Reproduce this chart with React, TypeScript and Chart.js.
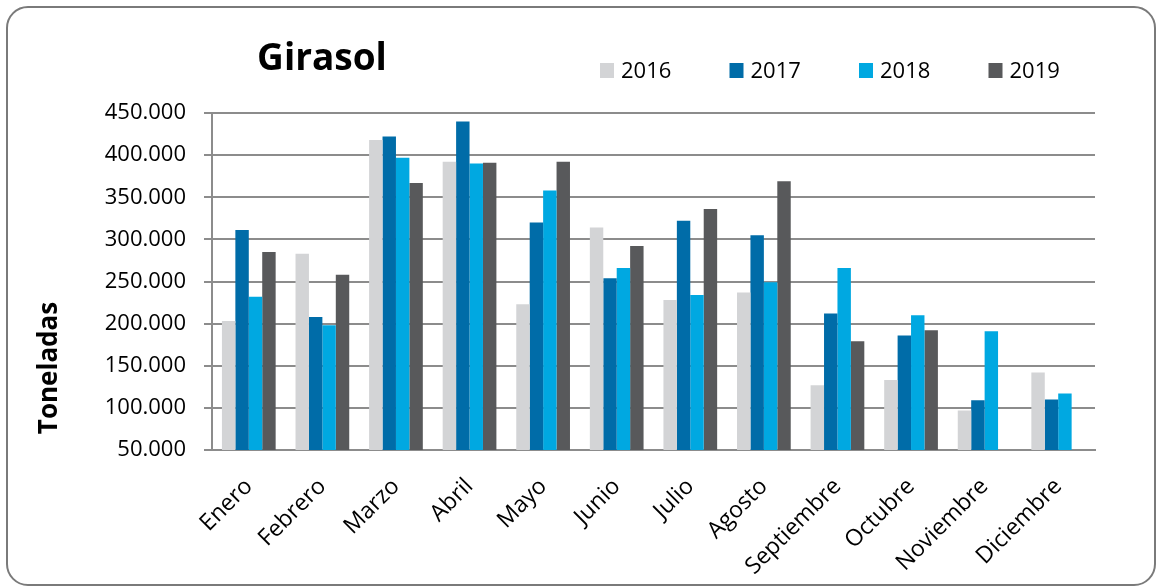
import React, { useEffect, useRef } from "react";
import { Chart, registerables } from "chart.js";

Chart.register(...registerables);

const months = [
  "Enero", "Febrero", "Marzo", "Abril", "Mayo", "Junio",
  "Julio", "Agosto", "Septiembre", "Octubre", "Noviembre", "Diciembre",
];

const years = ["2016", "2017", "2018", "2019"];

const values2016 = [203000, 283000, 418000, 392000, 223000, 314000, 228000, 237000, 127000, 133000, 97000, 142000];
const values2017 = [311000, 208000, 422000, 440000, 320000, 254000, 322000, 305000, 212000, 186000, 109000, 110000];
const values2018 = [232000, 198000, 397000, 390000, 358000, 266000, 234000, 249000, 266000, 210000, 191000, 117000];
const values2019 = [285000, 258000, 367000, 391000, 392000, 292000, 336000, 369000, 179000, 192000, null, null];

const colors = ["#D3D4D6", "#006CA8", "#00A8E1", "#58595B"];

const chartTitle = "Girasol";
const yAxisTitle = "Toneladas";

const yMin = 50000;
const yMax = 450000;
const yStep = 50000;

const FONT = '"Open Sans", "Noto Sans", sans-serif';

function formatThousands(v: number): string {
  return Math.round(v).toString().replace(/\B(?=(\d{3})+(?!\d))/g, ".");
}

const overlayPlugin = {
  id: "overlay",
  afterDraw(chart: any) {
    const ctx = chart.ctx as CanvasRenderingContext2D;
    ctx.save();
    // Title
    ctx.fillStyle = "#000";
    ctx.font = `bold 37px ${FONT}`;
    ctx.textAlign = "center";
    ctx.textBaseline = "alphabetic";
    ctx.fillText(chartTitle, 322, 70);

    // Legend
    ctx.font = `22px ${FONT}`;
    ctx.textAlign = "left";
    chart.data.datasets.forEach((ds: any, i: number) => {
      const x = 600 + i * 129.5;
      ctx.fillStyle = ds.backgroundColor;
      ctx.fillRect(x, 63, 14, 15);
      ctx.fillStyle = "#000";
      ctx.fillText(ds.label, x + 21, 78);
    });

    // Y axis title
    ctx.translate(57, 368);
    ctx.rotate(-Math.PI / 2);
    ctx.font = `bold 26px ${FONT}`;
    ctx.textAlign = "center";
    ctx.fillStyle = "#000";
    ctx.fillText(yAxisTitle, 0, 0);
    ctx.restore();
  },
};

export default function App() {
  const canvasRef = useRef<HTMLCanvasElement | null>(null);

  useEffect(() => {
    if (!canvasRef.current) return;
    const series = [values2016, values2017, values2018, values2019];
    const chart = new Chart(canvasRef.current, {
      type: "bar",
      data: {
        labels: months,
        datasets: years.map((y, i) => ({
          label: y,
          data: series[i],
          backgroundColor: colors[i],
          borderWidth: 0,
          categoryPercentage: 0.73,
          barPercentage: 1.0,
        })),
      },
      options: {
        animation: false,
        responsive: false,
        maintainAspectRatio: false,
        layout: { padding: { left: 0, top: 113, right: 61, bottom: 0 } },
        plugins: {
          legend: { display: false },
          title: { display: false },
          tooltip: { enabled: false },
        },
        scales: {
          x: {
            grid: { display: false, drawTicks: false },
            border: { display: true, color: "#8c8c8c", width: 2 },
            ticks: {
              color: "#000",
              font: { family: FONT, size: 23 },
              maxRotation: 45,
              minRotation: 45,
              autoSkip: false,
              padding: 23,
            },
            afterFit(scale: any) {
              scale.height = 136;
            },
          },
          y: {
            min: yMin,
            max: yMax,
            grid: { color: "#8c8c8c", lineWidth: 2, tickLength: 8, drawTicks: true },
            border: { display: true, color: "#8c8c8c", width: 2 },
            ticks: {
              stepSize: yStep,
              color: "#000",
              font: { family: FONT, size: 22 },
              padding: 18,
              callback: (v: any) => formatThousands(Number(v)),
            },
            afterFit(scale: any) {
              scale.width = 212;
            },
          },
        },
      },
      plugins: [overlayPlugin],
    });
    return () => chart.destroy();
  }, []);

  return (
    <div style={{ position: "fixed", left: 0, top: 0, width: 1156, height: 586, background: "#fff" }}>
      <div
        style={{
          position: "absolute",
          left: 6,
          top: 6,
          width: 1150,
          height: 580,
          boxSizing: "border-box",
          border: "2px solid #7a7a7a",
          borderRadius: 22,
        }}
      />
      <canvas
        ref={canvasRef}
        width={1156}
        height={586}
        style={{ position: "absolute", left: 0, top: 0, width: 1156, height: 586 }}
      />
    </div>
  );
}
